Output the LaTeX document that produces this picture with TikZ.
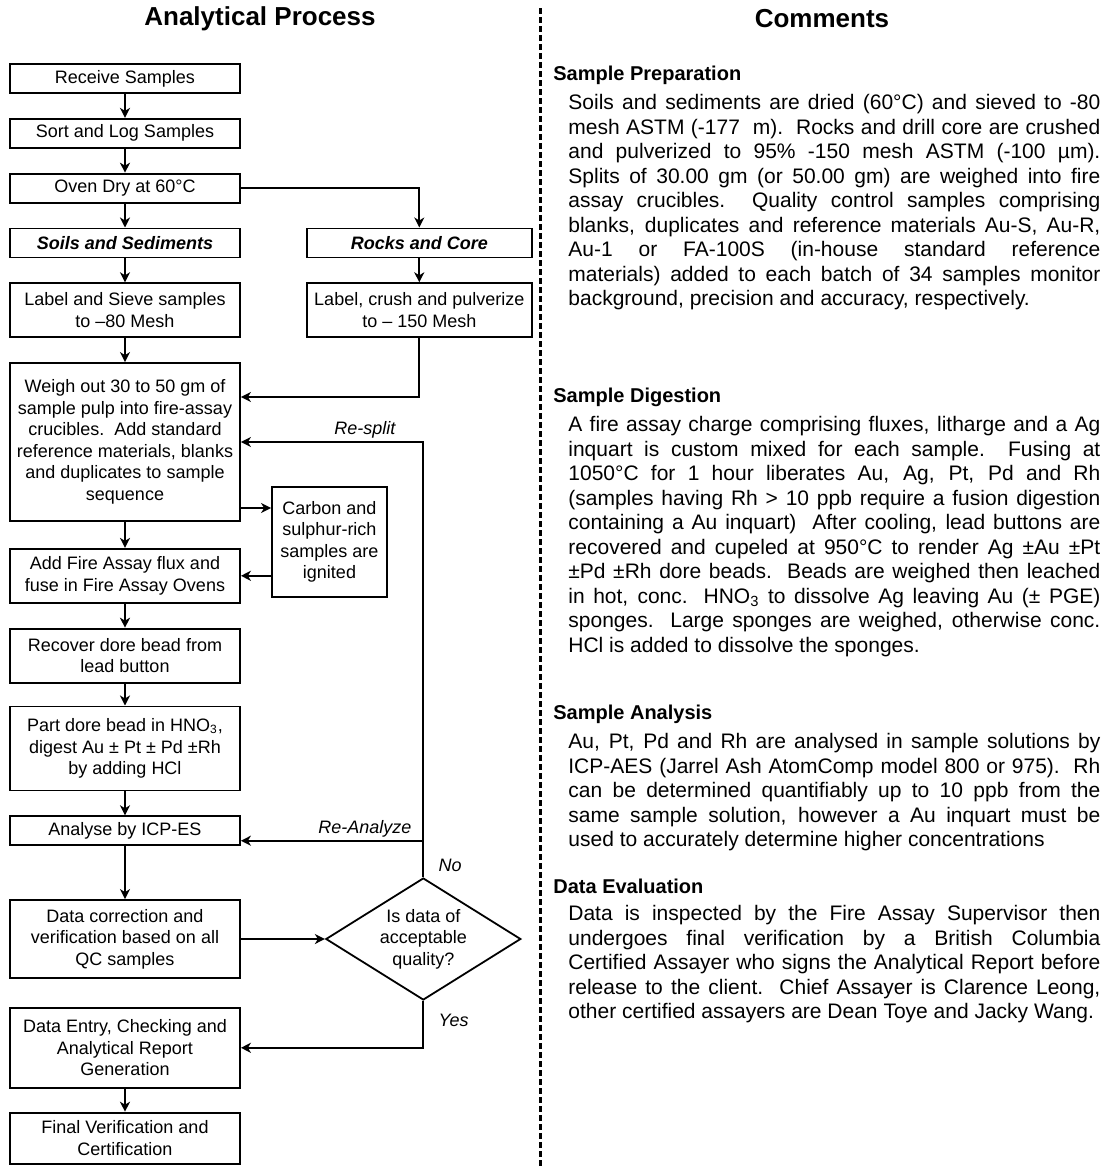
\documentclass[tikz,border=0pt]{standalone}
\usepackage{fontspec}
\setmainfont{Liberation Sans}
\usetikzlibrary{arrows.meta,positioning,shapes.geometric}

\begin{document}
\begin{tikzpicture}[
  x=0.5pt, y=-0.5pt,
  node distance=12pt,
  box/.style={draw,line width=0.9pt,minimum width=115pt,minimum height=14.5pt,inner xsep=1.5pt,inner ysep=2pt,font=\fontsize{9}{10.75}\selectfont,align=center},
  kind/.style={box,font=\fontsize{9}{10.75}\selectfont\bfseries\itshape},
  side/.style={box,minimum width=57.5pt},
  check/.style={draw,line width=0.9pt,diamond,aspect=1.6,minimum width=97.5pt,minimum height=61pt,inner sep=0pt,font=\fontsize{9}{10.75}\selectfont,align=center},
  arr/.style={-{Stealth[length=5pt,width=5pt,inset=1.5pt]},line width=0.9pt},
  tag/.style={font=\fontsize{9}{10}\selectfont\itshape,inner sep=1.5pt},
  title/.style={font=\fontsize{13}{15}\selectfont\bfseries},
  head/.style={font=\fontsize{10}{12}\selectfont\bfseries,anchor=west,inner sep=0pt},
  body/.style={font=\fontsize{10.5}{12.25}\selectfont,text width=266pt,align=justify,anchor=north west,inner sep=0pt}
]
\useasboundingbox (0,0) rectangle (1107,1168);

% headings and divider
\node[title] (ttl) at (260,19) {Analytical Process};
\node[title] (ttr) at (822,19) {Comments};
\draw[line width=1.5pt,dash pattern=on 3pt off 1.5pt] (540,8) -- (540,1168);

% main flow
\node[box] (recv) at (125,78.5) {Receive Samples};
\node[box,below=of recv] (sort) {Sort and Log Samples};
\node[box,below=of sort] (oven) {Oven Dry at 60°C};
\node[kind,below=of oven] (soils) {Soils and Sediments};
\node[box,below=of soils,minimum height=27pt] (sieve) {Label and Sieve samples\\to --80 Mesh};
\node[box,below=of sieve,minimum height=79pt] (weigh) {Weigh out 30 to 50 gm of\\sample pulp into fire-assay\\crucibles.\ \ Add standard\\reference materials, blanks\\and duplicates to sample\\sequence};
\node[box,below=13pt of weigh,minimum height=27pt] (fuse) {Add Fire Assay flux and\\fuse in Fire Assay Ovens};
\node[box,below=of fuse,minimum height=27pt] (recover) {Recover dore bead from\\lead button};
\node[box,below=11pt of recover,minimum height=42pt] (part) {Part dore bead in HNO\textsubscript{3},\\digest Au ± Pt ± Pd ±Rh\\by adding HCl};
\node[box,below=of part] (icp) {Analyse by ICP-ES};
\node[box,below=26.5pt of icp,minimum height=39pt] (correct) {Data correction and\\verification based on all\\QC samples};
\node[box,below=14pt of correct,minimum height=40pt] (entry) {Data Entry, Checking and\\Analytical Report\\Generation};
\node[box,below=11.5pt of entry,minimum height=25.5pt] (final) {Final Verification and\\Certification};

% rock branch, ignition, check
\node[kind,right=32.5pt of soils,minimum width=112.5pt] (rocks) {Rocks and Core};
\node[box,below=of rocks,minimum width=112.5pt,minimum height=27pt] (crush) {Label, crush and pulverize\\to -- 150 Mesh};
\node[side,minimum height=55pt] (carbon) at (329.5,542) {Carbon and\\sulphur-rich\\samples are\\ignited};
\node[check,right=42pt of correct] (ok) {Is data of\\acceptable\\quality?};

\coordinate (pulp) at ([yshift=22.5pt]weigh.east);
\coordinate (cin) at ([yshift=17pt]carbon.west);
\coordinate (redo) at ([yshift=-5pt]icp.east);

\draw[arr] (recv)--(sort); \draw[arr] (sort)--(oven); \draw[arr] (oven)--(soils); \draw[arr] (soils)--(sieve);
\draw[arr] (sieve)--(weigh); \draw[arr] (weigh)--(fuse); \draw[arr] (fuse)--(recover); \draw[arr] (recover)--(part);
\draw[arr] (part)--(icp); \draw[arr] (icp)--(correct); \draw[arr] (entry)--(final);
\draw[arr] (oven.east) -| (rocks.north);
\draw[arr] (rocks)--(crush);
\draw[arr] (crush.south) |- (pulp);
\draw[arr] (weigh.east |- cin) -- (cin);
\draw[arr] (carbon.west |- fuse.east) -- (fuse.east);
\draw[arr] (correct)--(ok);
\draw[arr] (ok.north) |- node[pos=0.66,above,tag]{Re-split} (weigh.east);
\draw[arr] (ok.north) |- node[pos=0.66,above,tag]{Re-Analyze} (redo);
\draw[arr] (ok.south) |- (entry.east);
\node[tag,above right=1pt and 6pt of ok.north] (no) {No};
\node[tag,below right=5pt and 6pt of ok.south] (yes) {Yes};

% comments
\node[head] (prep) at (553,75) {Sample Preparation};
\node[body] (prepbody) at (568,94) {Soils and sediments are dried (60°C) and sieved to -80\linebreak
mesh ASTM (-177\ \ m).\ \ Rocks and drill core are crushed\linebreak
and pulverized to 95\% -150 mesh ASTM (-100 µm).\linebreak
Splits of 30.00 gm (or 50.00 gm) are weighed into fire\linebreak
assay crucibles.\ \ Quality control samples comprising\linebreak
blanks, duplicates and reference materials Au-S, Au-R,\linebreak
Au-1 or FA-100S (in-house standard reference\linebreak
materials) added to each batch of 34 samples monitor\linebreak
background, precision and accuracy, respectively.};

\node[head] (dig) at (553,397) {Sample Digestion};
\node[body] (digbody) at (568,416) {A fire assay charge comprising fluxes, litharge and a Ag\linebreak
inquart is custom mixed for each sample.\ \ Fusing at\linebreak
1050°C for 1 hour liberates Au, Ag, Pt, Pd and Rh\linebreak
(samples having Rh > 10 ppb require a fusion digestion\linebreak
containing a Au inquart)\ \ After cooling, lead buttons are\linebreak
recovered and cupeled at 950°C to render Ag ±Au ±Pt\linebreak
±Pd ±Rh dore beads.\ \ Beads are weighed then leached\linebreak
in hot, conc. HNO\textsubscript{3} to dissolve Ag leaving Au (± PGE)\linebreak
sponges.\ \ Large sponges are weighed, otherwise conc.\linebreak
HCl is added to dissolve the sponges.};

\node[head] (ana) at (553,714) {Sample Analysis};
\node[body] (anabody) at (568,733) {Au, Pt, Pd and Rh are analysed in sample solutions by\linebreak
ICP-AES (Jarrel Ash AtomComp model 800 or 975).\ \ Rh\linebreak
can be determined quantifiably up to 10 ppb from the\linebreak
same sample solution, however a Au inquart must be\linebreak
used to accurately determine higher concentrations};

\node[head] (eva) at (553,886) {Data Evaluation};
\node[body] (evabody) at (568,905) {Data is inspected by the Fire Assay Supervisor then\linebreak
undergoes final verification by a British Columbia\linebreak
Certified Assayer who signs the Analytical Report before\linebreak
release to the client.\ \ Chief Assayer is Clarence Leong,\linebreak
other certified assayers are Dean Toye and Jacky Wang.};
\end{tikzpicture}
\end{document}
